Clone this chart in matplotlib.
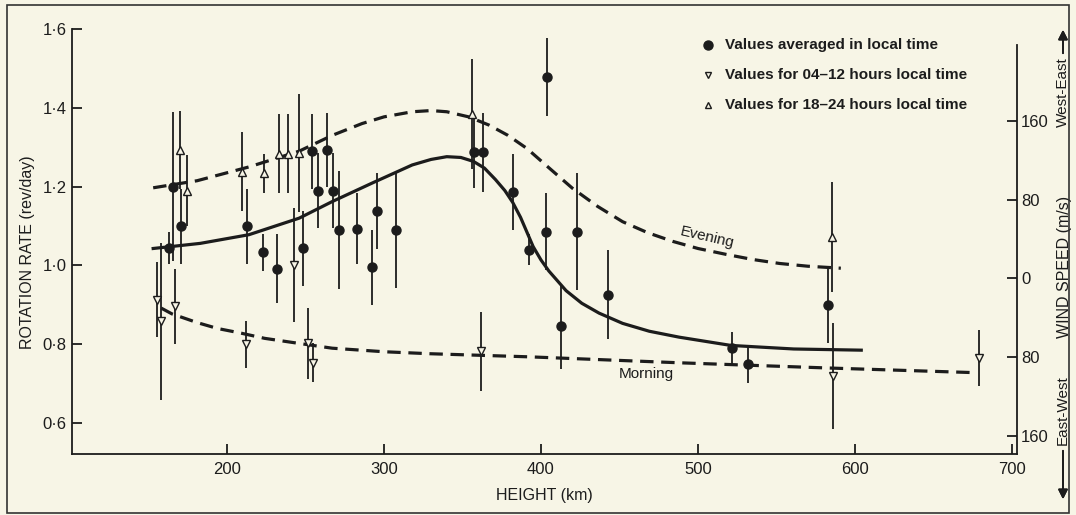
import numpy as np
import matplotlib.pyplot as plt
from matplotlib.patches import Rectangle
from matplotlib.lines import Line2D

plt.rcParams['font.family'] = ['Liberation Sans', 'DejaVu Sans']

# -------------------------
# Data
# -------------------------
# values averaged in local time (filled circles)
mean_h = [163.3, 165.8, 170.5, 212.5, 222.7, 231.7, 248.2, 254.0, 258.2, 264.0,
          267.3, 271.6, 282.6, 292.6, 295.4, 307.7, 357.4, 363.3, 382.4, 392.6,
          403.0, 403.6, 412.5, 422.7, 443.0, 521.5, 532.0, 583.0]
mean_r = [1.044, 1.200, 1.099, 1.099, 1.034, 0.992, 1.044, 1.290, 1.190, 1.293,
          1.190, 1.090, 1.093, 0.995, 1.138, 1.090, 1.287, 1.287, 1.187, 1.040,
          1.086, 1.478, 0.846, 1.086, 0.926, 0.791, 0.749, 0.899]
mean_err = [0.04, 0.19, 0.095, 0.095, 0.047, 0.088, 0.095, 0.095, 0.095, 0.095,
            0.095, 0.15, 0.09, 0.095, 0.097, 0.147, 0.09, 0.10, 0.097, 0.04,
            0.097, 0.10, 0.108, 0.148, 0.113, 0.04, 0.048, 0.095]

# values for 04-12 hours local time (open, pointing down)
morn_h = [155.2, 157.8, 166.9, 212.1, 242.7, 251.3, 255.0, 361.6, 585.8, 679.2]
morn_r = [0.913, 0.858, 0.896, 0.800, 1.002, 0.803, 0.753, 0.782, 0.719, 0.765]
morn_err = [0.095, 0.20, 0.095, 0.06, 0.145, 0.09, 0.05, 0.10, 0.135, 0.07]

# values for 18-24 hours local time (open, pointing up)
eve_h = [170.0, 174.4, 209.3, 223.3, 233.3, 238.7, 246.1, 356.3, 585.1]
eve_r = [1.293, 1.190, 1.238, 1.234, 1.284, 1.284, 1.286, 1.385, 1.073]
eve_err = [0.10, 0.09, 0.10, 0.05, 0.10, 0.10, 0.15, 0.14, 0.14]

# fitted curves
curve_mean_h = [153, 183, 214, 246, 267, 293, 318, 330, 340, 349, 357, 364, 371,
                377, 382, 387, 391, 395, 400, 405, 416, 426, 437, 452, 469, 488,
                521, 561, 604]
curve_mean_r = [1.043, 1.056, 1.078, 1.12, 1.162, 1.21, 1.255, 1.269, 1.276, 1.274,
                1.264, 1.247, 1.218, 1.19, 1.16, 1.122, 1.085, 1.048, 1.014, 0.986,
                0.936, 0.904, 0.879, 0.853, 0.833, 0.818, 0.797, 0.788, 0.785]
curve_eve_h = [153, 181, 214, 246, 267, 286, 300, 318, 330, 340, 354, 367, 379,
               391, 405, 420, 436, 452, 468, 484, 500, 518, 535, 552, 570, 591]
curve_eve_r = [1.197, 1.215, 1.25, 1.29, 1.33, 1.36, 1.377, 1.39, 1.393, 1.39,
               1.377, 1.356, 1.33, 1.297, 1.248, 1.196, 1.15, 1.111, 1.083, 1.061,
               1.043, 1.028, 1.015, 1.005, 0.998, 0.993]
curve_morn_h = [158, 165, 181, 194, 208, 224, 241, 267, 300, 329, 393, 488, 581, 676]
curve_morn_r = [0.892, 0.877, 0.855, 0.84, 0.829, 0.815, 0.805, 0.79, 0.781, 0.776,
                0.768, 0.753, 0.74, 0.728]

x_ticks = [200, 300, 400, 500, 600, 700]
y_ticks = [0.6, 0.8, 1.0, 1.2, 1.4, 1.6]
y_tick_labels = ['0\u00b76', '0\u00b78', '1\u00b70', '1\u00b72', '1\u00b74', '1\u00b76']
wind_ticks = [160, 80, 0, -80, -160]
wind_tick_labels = ['160', '80', '0', '80', '160']

legend_labels = ['Values averaged in local time',
                 'Values for 04\u201312 hours local time',
                 'Values for 18\u201324 hours local time']

# -------------------------
# Figure
# -------------------------
bg = '#f7f5e6'
ink = '#1c1c1c'
W, H = 1076, 515

fig = plt.figure(figsize=(W / 100, H / 100), dpi=100, facecolor=bg)
ax = fig.add_axes([72 / W, 1 - 454 / H, (1017 - 72) / W, (454 - 29) / H])
ax.set_facecolor('none')

ymin, ymax = 0.5215, 1.6
ax.set_xlim(101.3, 703.2)
ax.set_ylim(ymin, ymax)

# curves
dash = (4.2, 2.4)
ax.plot(curve_mean_h, curve_mean_r, color=ink, lw=2.3, solid_joinstyle='round')
ax.plot(curve_eve_h, curve_eve_r, color=ink, lw=2.3, ls=(0, dash))
ax.plot(curve_morn_h, curve_morn_r, color=ink, lw=2.3, ls=(0, dash))

# error bars and points
ax.errorbar(mean_h, mean_r, yerr=mean_err, fmt='o', ms=6.5, color=ink,
            ecolor=ink, elinewidth=1.3, capsize=0, zorder=4)
ax.errorbar(morn_h, morn_r, yerr=morn_err, fmt='v', ms=5.5, mfc=bg, mec=ink,
            mew=1.0, ecolor=ink, elinewidth=1.3, capsize=0, zorder=4)
ax.errorbar(eve_h, eve_r, yerr=eve_err, fmt='^', ms=5.5, mfc=bg, mec=ink,
            mew=1.0, ecolor=ink, elinewidth=1.3, capsize=0, zorder=4)

ax.text(506, 1.071, 'Evening', fontsize=11, rotation=-13, ha='center',
        va='center', color=ink)
ax.text(467, 0.724, 'Morning', fontsize=11, ha='center', va='center', color=ink)

# axes styling
for s in ['top', 'right']:
    ax.spines[s].set_visible(False)
for s in ['left', 'bottom']:
    ax.spines[s].set_color(ink)
    ax.spines[s].set_linewidth(1.3)
ax.set_xticks(x_ticks)
ax.set_yticks(y_ticks)
ax.set_yticklabels(y_tick_labels)
ax.tick_params(axis='both', direction='in', length=7, width=1.3, color=ink,
               labelsize=12, labelcolor=ink)
ax.tick_params(axis='y', pad=4)
ax.tick_params(axis='x', pad=6)
ax.set_xlabel('HEIGHT (km)', fontsize=11.5, color=ink, labelpad=8)
ax.set_ylabel('ROTATION RATE (rev/day)', fontsize=11.5, color=ink, labelpad=5)
ax.yaxis.label.set_y(0.475)

# wind speed axis
ax2 = ax.twinx()
ax2.set_ylim((ymin - 0.967) * 400, (ymax - 0.967) * 400)
for s in ['top', 'left', 'bottom']:
    ax2.spines[s].set_visible(False)
ax2.spines['right'].set_color(ink)
ax2.spines['right'].set_linewidth(1.3)
ax2.spines['right'].set_bounds((ymin - 0.967) * 400, (1.56 - 0.967) * 400)
ax2.set_yticks(wind_ticks)
ax2.set_yticklabels(wind_tick_labels)
ax2.tick_params(axis='y', direction='in', length=7, width=1.3, color=ink,
                labelsize=12, labelcolor=ink, pad=3)
ax2.set_ylabel('WIND SPEED (m/s)', fontsize=11.5, color=ink, labelpad=6)
ax2.yaxis.label.set_y(0.44)

# direction labels with arrows
fx = 1063 / W
fig.text(fx, 1 - 92 / H, 'West-East', rotation=90, fontsize=11, color=ink,
         ha='center', va='center')
fig.add_artist(plt.annotate('', xy=(fx, 1 - 27 / H), xytext=(fx, 1 - 56 / H),
                            xycoords='figure fraction',
                            arrowprops=dict(arrowstyle='-|>', color=ink, lw=1.3,
                                            mutation_scale=14)))
fig.text(fx, 1 - 410 / H, 'East-West', rotation=90, fontsize=11, color=ink,
         ha='center', va='center')
fig.add_artist(plt.annotate('', xy=(fx, 1 - 502 / H), xytext=(fx, 1 - 448 / H),
                            xycoords='figure fraction',
                            arrowprops=dict(arrowstyle='-|>', color=ink, lw=1.3,
                                            mutation_scale=14)))

# legend drawn by hand
leg_marks = [dict(marker='o', ms=6.5, mfc=ink), dict(marker='v', ms=5, mfc=bg),
             dict(marker='^', ms=5, mfc=bg)]
for i, (lab, mk) in enumerate(zip(legend_labels, leg_marks)):
    yy = 1 - (45 + 30 * i) / H
    fig.add_artist(Line2D([708 / W], [yy], color=ink, mec=ink, mew=1.0,
                          ls='none', transform=fig.transFigure, **mk))
    fig.text(725 / W, yy, lab, fontsize=11, fontweight='bold', color=ink,
             ha='left', va='center')

# outer frame
fig.patches.append(Rectangle((7 / W, 2 / H), (1069 - 7) / W, (510 - 2) / H,
                             transform=fig.transFigure, fill=False, lw=1.2,
                             ec='#333333'))

fig.savefig('out.png', dpi=100, facecolor=bg)
